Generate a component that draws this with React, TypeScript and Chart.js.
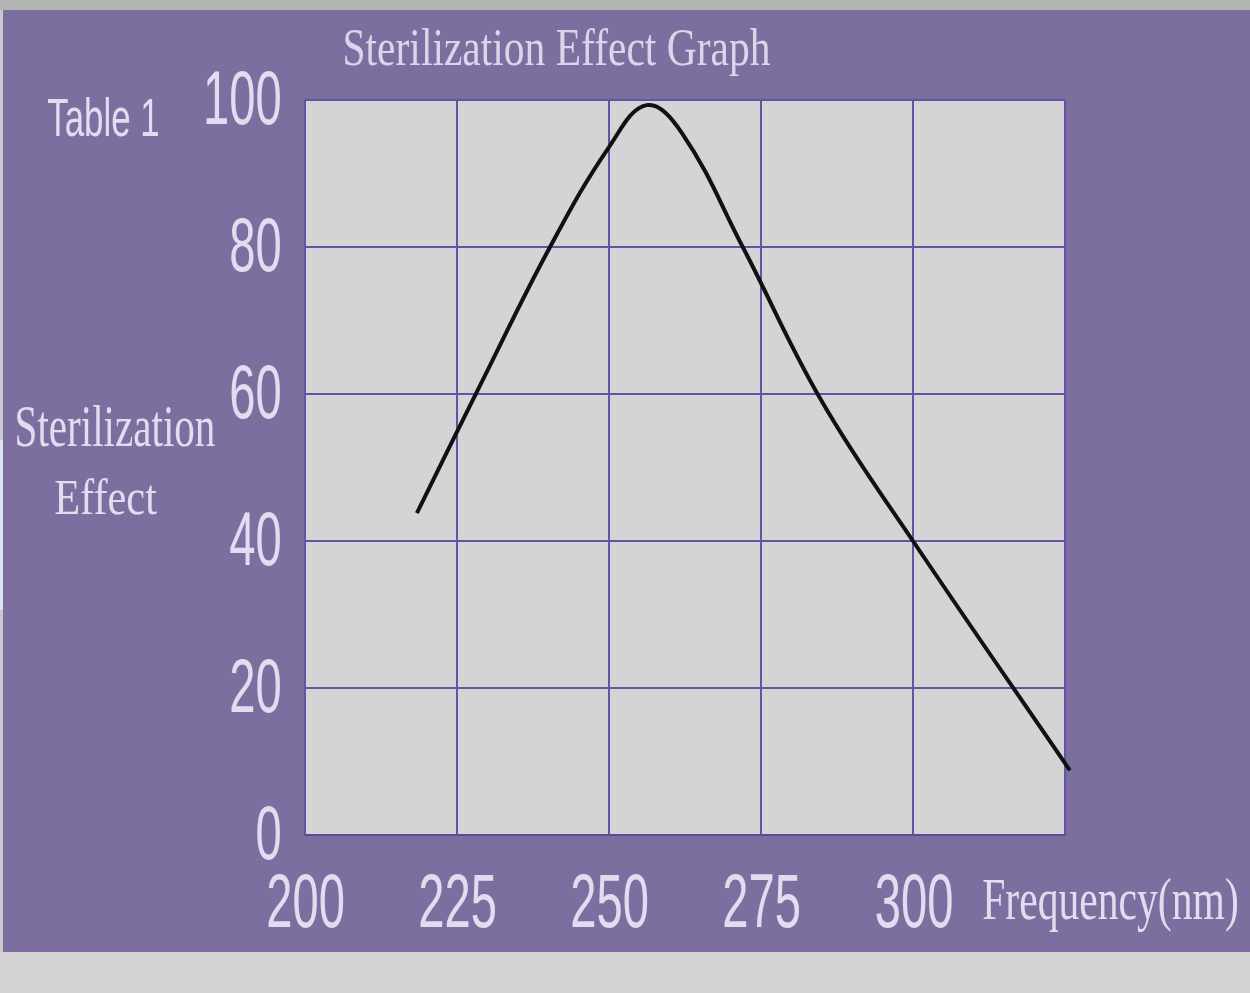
import React, { useEffect, useRef } from "react";
import { Chart, registerables } from "chart.js";

Chart.register(...registerables);

// ---- data ----
const wavelengthValues = [218.4, 229, 240.3, 250, 256.2, 262, 272, 285, 300, 325.8];
const effectValues = [43.8, 61.5, 80, 93.6, 99.3, 95.5, 80, 59, 40, 8.8];
const xTickValues = [200, 225, 250, 275, 300];
const yTickValues = [0, 20, 40, 60, 80, 100];
const chartTitle = "Sterilization Effect Graph";
const tableLabel = "Table 1";
const yTitleLines = ["Sterilization", "Effect"];
const xTitle = "Frequency(nm)";

const PURPLE = "#7C6F9F";
const TEXT = "#E3DBEF";

function measure(ctx: CanvasRenderingContext2D, text: string, family: string) {
  ctx.font = `100px ${family}`;
  const m = ctx.measureText(text);
  return {
    asc: m.actualBoundingBoxAscent,
    desc: m.actualBoundingBoxDescent,
    l: m.actualBoundingBoxLeft,
    r: m.actualBoundingBoxRight,
  };
}

function drawAt(ctx: CanvasRenderingContext2D, text: string, family: string, x0: number, top: number, sx: number, sy: number, mm: any) {
  ctx.save();
  ctx.font = `100px ${family}`;
  ctx.textAlign = "left";
  ctx.textBaseline = "alphabetic";
  ctx.translate(x0 + mm.l * sx, top + mm.asc * sy);
  ctx.scale(sx, sy);
  ctx.fillText(text, 0, 0);
  ctx.restore();
}

function fitBox(ctx: CanvasRenderingContext2D, text: string, family: string, x0: number, x1: number, top: number, bottom: number) {
  const mm = measure(ctx, text, family);
  const sx = (x1 - x0) / (mm.l + mm.r);
  const sy = (bottom - top) / (mm.asc + mm.desc);
  drawAt(ctx, text, family, x0, top, sx, sy, mm);
}

function fitScaled(ctx: CanvasRenderingContext2D, text: string, family: string, anchorX: number, align: string, top: number, bottom: number, ratio: number) {
  const mm = measure(ctx, text, family);
  const sy = (bottom - top) / (mm.asc + mm.desc);
  const sx = sy * ratio;
  const w = (mm.l + mm.r) * sx;
  const x0 = align === "right" ? anchorX - w : anchorX - w / 2;
  drawAt(ctx, text, family, x0, top, sx, sy, mm);
}

const backgroundPlugin = {
  id: "bgPlugin",
  beforeDraw(chart: any) {
    const { ctx, width, height, chartArea } = chart;
    ctx.save();
    ctx.fillStyle = PURPLE;
    ctx.fillRect(0, 0, width, height);
    ctx.fillStyle = "#B3B3B3";
    ctx.fillRect(0, 0, width, 10);
    ctx.fillStyle = "#D2D2D2";
    ctx.fillRect(0, 952, width, height - 952);
    ctx.fillStyle = "#C9C9CC";
    ctx.fillRect(0, 10, 3, 942);
    ctx.fillStyle = "#DCE6F2";
    ctx.fillRect(0, 440, 3, 170);
    ctx.fillStyle = "#D4D3D5";
    ctx.fillRect(chartArea.left, chartArea.top, chartArea.right - chartArea.left, chartArea.bottom - chartArea.top);
    ctx.restore();
  },
};

const textPlugin = {
  id: "textPlugin",
  afterDraw(chart: any) {
    const { ctx } = chart;
    const xs = chart.scales.x;
    const ys = chart.scales.y;
    ctx.save();
    ctx.fillStyle = TEXT;
    const sans = "'Liberation Sans', Arial, sans-serif";
    const serif = "'Liberation Serif', 'Times New Roman', serif";
    yTickValues.forEach((v) => {
      const p = ys.getPixelForValue(v);
      fitScaled(ctx, String(v), sans, 280, "right", p - 29, p + 25, 0.62);
    });
    xTickValues.forEach((v) => {
      const p = xs.getPixelForValue(v);
      fitScaled(ctx, String(v), sans, p + 1, "center", 874, 928, 0.62);
    });
    ctx.fillStyle = "#DDD4EA";
    fitBox(ctx, chartTitle, serif, 345, 770, 27, 76);
    ctx.fillStyle = TEXT;
    fitBox(ctx, tableLabel, sans, 48, 158, 98, 137);
    fitBox(ctx, yTitleLines[0], serif, 17, 215, 405, 447);
    fitBox(ctx, yTitleLines[1], serif, 55, 157, 478, 515);
    fitBox(ctx, xTitle, serif, 983, 1237, 878, 932);
    ctx.restore();
  },
};

export default function App() {
  const ref = useRef<HTMLCanvasElement | null>(null);
  useEffect(() => {
    if (!ref.current) return;
    const points = wavelengthValues.map((x, i) => ({ x, y: effectValues[i] }));
    const chart = new Chart(ref.current, {
      type: "line",
      data: {
        datasets: [
          {
            data: points,
            borderColor: "#111111",
            borderWidth: 4,
            pointRadius: 0,
            tension: 0.4,
            capBezierPoints: false,
            fill: false,
            clip: false as any,
          } as any,
        ],
      },
      options: {
        animation: false,
        responsive: false,
        devicePixelRatio: 1,
        layout: { padding: { left: 305, right: 185, top: 100, bottom: 158 } },
        plugins: { legend: { display: false }, title: { display: false }, tooltip: { enabled: false } },
        scales: {
          x: {
            type: "linear",
            min: 200,
            max: 325,
            ticks: { stepSize: 25, display: false },
            grid: { color: "#6354A3", lineWidth: 2, drawTicks: false },
            border: { display: true, color: "#5A4C95", width: 2 },
            afterFit: (s: any) => { s.height = 0; },
          },
          y: {
            min: 0,
            max: 100,
            ticks: { stepSize: 20, display: false },
            grid: { color: "#6354A3", lineWidth: 2, drawTicks: false },
            border: { display: true, color: "#6354A3", width: 2 },
            afterFit: (s: any) => { s.width = 0; },
          },
        },
      },
      plugins: [backgroundPlugin, textPlugin],
    });
    return () => chart.destroy();
  }, []);
  return (
    <canvas
      ref={ref}
      width={1250}
      height={993}
      style={{ position: "absolute", left: 0, top: 0, width: 1250, height: 993 }}
    />
  );
}
